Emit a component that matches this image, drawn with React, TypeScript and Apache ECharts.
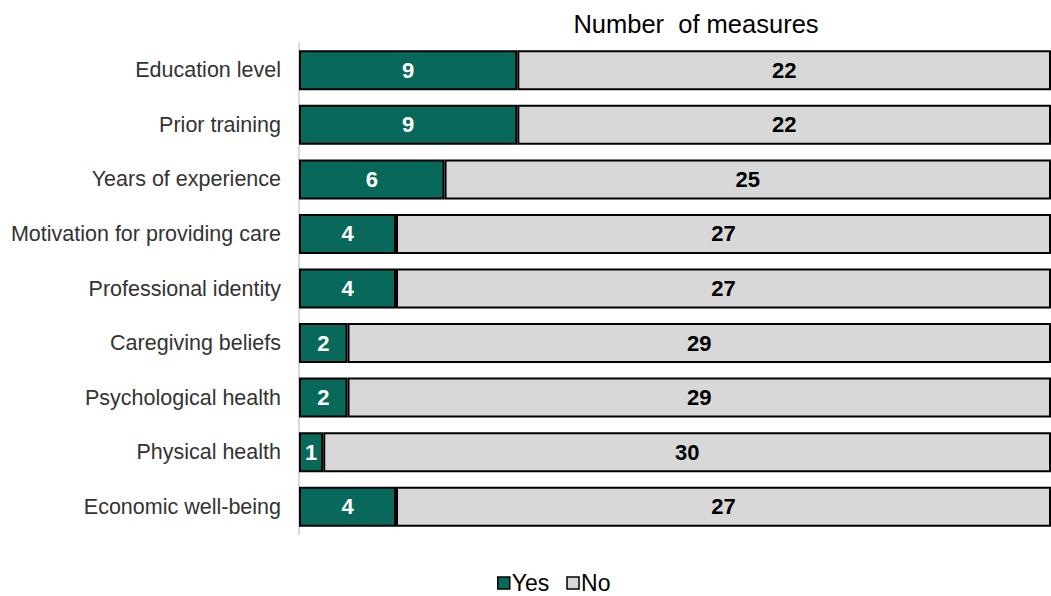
import React, { useEffect, useRef } from "react";
import * as echarts from "echarts";

const categories = [
  "Education level",
  "Prior training",
  "Years of experience",
  "Motivation for providing care",
  "Professional identity",
  "Caregiving beliefs",
  "Psychological health",
  "Physical health",
  "Economic well-being",
];
const yesValues = [9, 9, 6, 4, 4, 2, 2, 1, 4];
const noValues = [22, 22, 25, 27, 27, 29, 29, 30, 27];

const FONT = "'Liberation Sans', Arial, sans-serif";

export default function App() {
  const ref = useRef<HTMLDivElement>(null);
  useEffect(() => {
    document.body.style.margin = "0";
    const chart = echarts.init(ref.current!, null, { renderer: "svg" });
    chart.setOption({
      animation: false,
      title: {
        text: "Number  of measures",
        left: 691,
        textAlign: "center",
        top: 6,
        textStyle: { fontFamily: FONT, fontSize: 25.5, fontWeight: "normal", color: "#000" },
      },
      legend: {
        top: 571,
        left: 497,
        padding: 0,
        itemWidth: 12,
        itemHeight: 12,
        itemGap: 17,
        icon: "rect",
        textStyle: { fontFamily: FONT, fontSize: 23, lineHeight: 24, color: "#000", padding: [0, 0, 0, -3] },
        data: [
          { name: "Yes", itemStyle: { borderColor: "#000", borderWidth: 1.5 } },
          { name: "No", itemStyle: { borderColor: "#000", borderWidth: 1.5 } },
        ],
      },
      grid: { left: 299, right: 0, top: 43, bottom: 62 },
      xAxis: {
        type: "value",
        min: 0,
        max: 31,
        show: false,
      },
      yAxis: {
        type: "category",
        inverse: true,
        data: categories,
        axisLine: { show: true, lineStyle: { color: "#d9d9d9", width: 2 } },
        axisTick: { show: false },
        axisLabel: { fontFamily: FONT, fontSize: 21.5, color: "#333", margin: 18 },
      },
      series: [
        {
          name: "Yes",
          type: "bar",
          stack: "total",
          data: yesValues,
          barWidth: 40,
          itemStyle: { color: "#08695a", borderColor: "#000", borderWidth: 2 },
          label: {
            show: true,
            position: "inside",
            color: "#fff",
            fontFamily: FONT,
            fontSize: 22,
            fontWeight: "bold",
          },
        },
        {
          name: "No",
          type: "bar",
          stack: "total",
          data: noValues,
          barWidth: 40,
          itemStyle: { color: "#d8d8d8", borderColor: "#000", borderWidth: 2 },
          label: {
            show: true,
            position: "inside",
            color: "#000",
            fontFamily: FONT,
            fontSize: 22,
            fontWeight: "bold",
          },
        },
      ],
    });
    return () => chart.dispose();
  }, []);
  return <div ref={ref} style={{ width: 1051, height: 596 }} />;
}
